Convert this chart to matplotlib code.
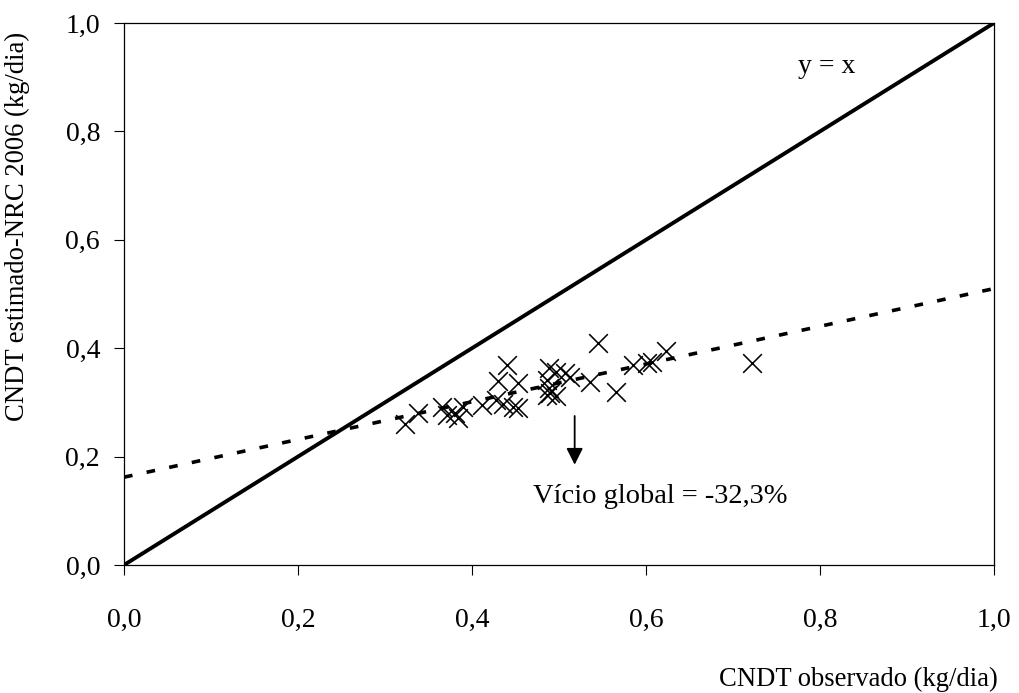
import matplotlib
matplotlib.use("Agg")
import matplotlib.pyplot as plt

plt.rcParams['font.family'] = ['Liberation Serif', 'DejaVu Serif']

# observed vs estimated CNDT (kg/dia)
obs = [0.323, 0.338, 0.365, 0.371, 0.380, 0.384, 0.390, 0.411, 0.428, 0.430,
       0.436, 0.440, 0.447, 0.453, 0.453, 0.486, 0.486, 0.488, 0.488, 0.490,
       0.497, 0.497, 0.507, 0.513, 0.536, 0.545, 0.566, 0.585, 0.601, 0.607,
       0.623, 0.722]
est = [0.261, 0.280, 0.292, 0.277, 0.280, 0.271, 0.292, 0.296, 0.305, 0.340,
       0.297, 0.369, 0.291, 0.290, 0.335, 0.341, 0.314, 0.363, 0.326, 0.318,
       0.356, 0.311, 0.354, 0.347, 0.338, 0.409, 0.320, 0.369, 0.372, 0.375,
       0.394, 0.372]

# identity line and fitted trend (end points)
ident_x = [0.0, 1.0]
ident_y = [0.0, 1.0]
trend_x = [0.0, 1.0]
trend_y = [0.162, 0.510]

ticks = [0.0, 0.2, 0.4, 0.6, 0.8, 1.0]
tick_labels = ['0,0', '0,2', '0,4', '0,6', '0,8', '1,0']

fig = plt.figure(figsize=(10.2, 6.93), dpi=100)
ax = fig.add_axes([124 / 1020, 1 - 565 / 693, 870 / 1020, 542 / 693])

ax.plot(ident_x, ident_y, color='black', lw=2.8, solid_capstyle='butt')
ax.plot(trend_x, trend_y, color='black', lw=2.6, dashes=(2.4, 4.0))
ax.scatter(obs, est, marker='x', s=180, color='black', linewidths=1.15, zorder=3)

ax.set_xlim(0, 1)
ax.set_ylim(0, 1)
ax.set_xticks(ticks)
ax.set_xticklabels(tick_labels)
ax.set_yticks(ticks)
ax.set_yticklabels(tick_labels)
ax.tick_params(axis='both', direction='out', length=7.2, width=0.8,
               labelsize=20, colors='black')
ax.tick_params(axis='x', pad=24)
ax.tick_params(axis='y', pad=10)
for sp in ax.spines.values():
    sp.set_linewidth(0.9)
    sp.set_color('black')

ax.set_ylabel('CNDT estimado-NRC 2006 (kg/dia)', fontsize=19.2)
ax.yaxis.set_label_coords(-0.108, 0.624)
ax.set_xlabel('CNDT observado (kg/dia)', fontsize=19.2, ha='right', va='center')
ax.xaxis.set_label_coords(1.004, -0.212)

ax.text(0.808, 0.919, 'y = x', fontsize=20, ha='center', va='center')
ax.annotate('', xy=(0.518, 0.185), xytext=(0.518, 0.275),
            arrowprops=dict(arrowstyle='-|>', color='black', lw=1.3,
                            mutation_scale=25, shrinkA=0, shrinkB=0))
ax.text(0.470, 0.127, 'Vício global = -32,3%', fontsize=20.5, ha='left', va='center')

fig.savefig('out.png', dpi=100)
